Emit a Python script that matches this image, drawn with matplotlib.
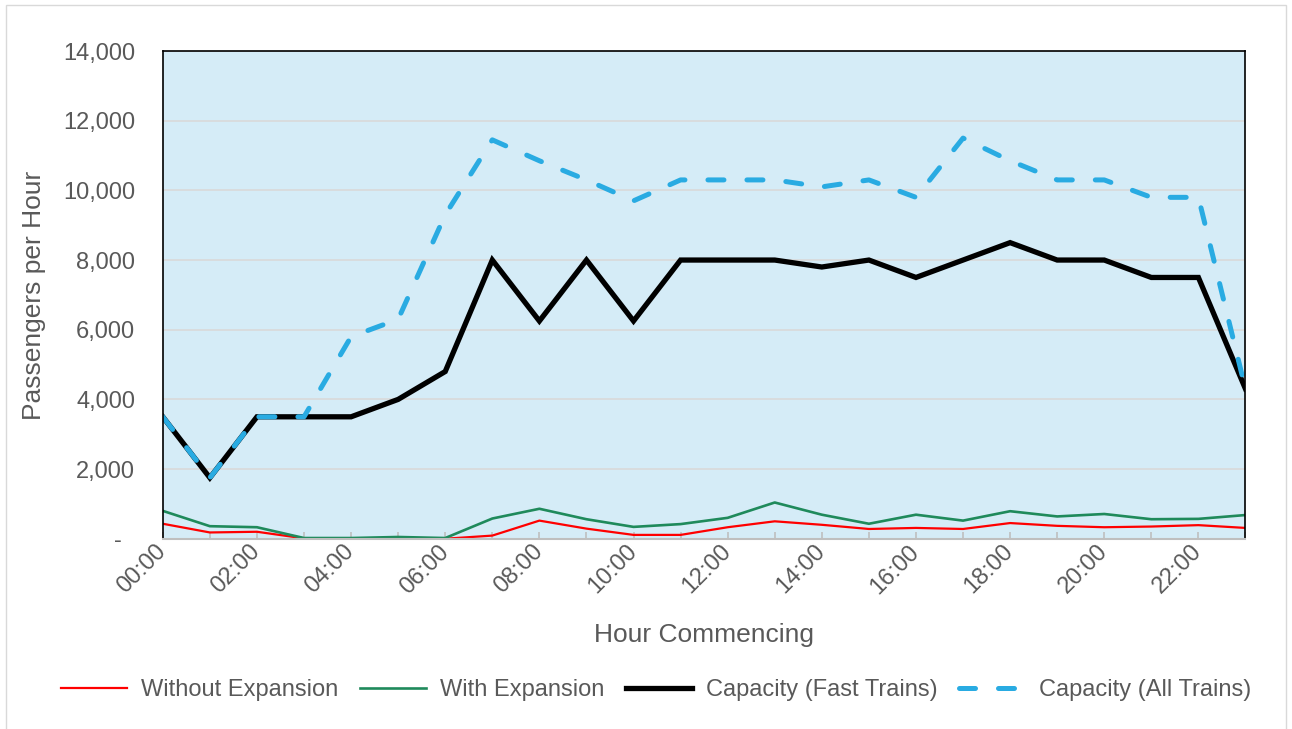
import matplotlib
matplotlib.use("Agg")
import matplotlib.pyplot as plt
from matplotlib.patches import Rectangle
from matplotlib.ticker import FuncFormatter, MultipleLocator

plt.rcParams['font.family'] = ['Liberation Sans', 'DejaVu Sans']

# hourly demand and capacity, passengers per hour
hours = ["%02d:00" % h for h in range(24)]
without_expansion = [430, 180, 200, 10, 0, 10, 0, 90, 520, 290, 110, 110,
                     330, 500, 400, 280, 310, 280, 450, 370, 330, 350, 390, 310]
with_expansion = [800, 360, 330, 20, 20, 50, 20, 580, 860, 560, 340, 420,
                  600, 1040, 690, 430, 690, 520, 790, 640, 710, 560, 570, 680]
capacity_fast = [3500, 1750, 3500, 3500, 3500, 4000, 4800, 8000, 6250, 8000,
                 6250, 8000, 8000, 8000, 7800, 8000, 7500, 8000, 8500, 8000,
                 8000, 7500, 7500, 4300]
capacity_all = [3500, 1750, 3500, 3500, 5800, 6300, 9300, 11450, 10850, 10300,
                9700, 10300, 10300, 10300, 10100, 10300, 9800, 11500, 10850,
                10300, 10300, 9800, 9800, 4300]

TEXT = '#595959'
x = list(range(len(hours)))

fig = plt.figure(figsize=(12.92, 7.29), dpi=100)
fig.patches.append(Rectangle((0.0045, -0.01), 0.991, 1.003,
                             transform=fig.transFigure, fill=False,
                             edgecolor='#D9D9D9', linewidth=1))
ax = fig.add_axes([0.126, 0.261, 0.838, 0.669])
ax.set_facecolor('#D5ECF7')

ax.plot(x, without_expansion, color='#FF0000', lw=1.6, label='Without Expansion')
ax.plot(x, with_expansion, color='#1F8A5B', lw=1.9, label='With Expansion')
ax.plot(x, capacity_fast, color='black', lw=3.8, solid_joinstyle='miter',
        label='Capacity (Fast Trains)')
ax.plot(x, capacity_all, color='#29ABE2', lw=3.6, dashes=(3.2, 4.6),
        dash_capstyle='round', label='Capacity (All Trains)')

ax.set_xlim(0, 23)
ax.set_ylim(0, 14000)
ax.yaxis.set_major_locator(MultipleLocator(2000))
ax.yaxis.set_major_formatter(FuncFormatter(
    lambda v, p: '-  ' if v == 0 else '{:,.0f}'.format(v)))
ax.grid(axis='y', color='#D9D9D9', lw=1.2)
ax.set_axisbelow(True)

ax.set_xticks(x[::2])
ax.set_xticklabels(hours[::2], rotation=45, ha='right', va='center',
                   rotation_mode='anchor')
ax.set_xticks(x, minor=True)
ax.tick_params(axis='x', which='both', direction='in', length=5,
               color='#BFBFBF', width=1.2, labelsize=17, labelcolor=TEXT, pad=7)
ax.tick_params(axis='y', length=0, labelsize=17, labelcolor=TEXT, pad=20)

for side in ['left', 'right', 'top']:
    ax.spines[side].set_color('black')
    ax.spines[side].set_linewidth(1.2)
ax.spines['bottom'].set_color('#BFBFBF')
ax.spines['bottom'].set_linewidth(1.5)

ax.set_xlabel('Hour Commencing', fontsize=19, color=TEXT, labelpad=18)
ax.set_ylabel('Passengers per Hour', fontsize=19, color=TEXT, labelpad=12)

fig.legend(loc='center', bbox_to_anchor=(0.508, 0.053), ncol=4, frameon=False,
           fontsize=17, labelcolor=TEXT, handlelength=2.8, handletextpad=0.6,
           columnspacing=0.9)

fig.savefig('out.png', dpi=100)
